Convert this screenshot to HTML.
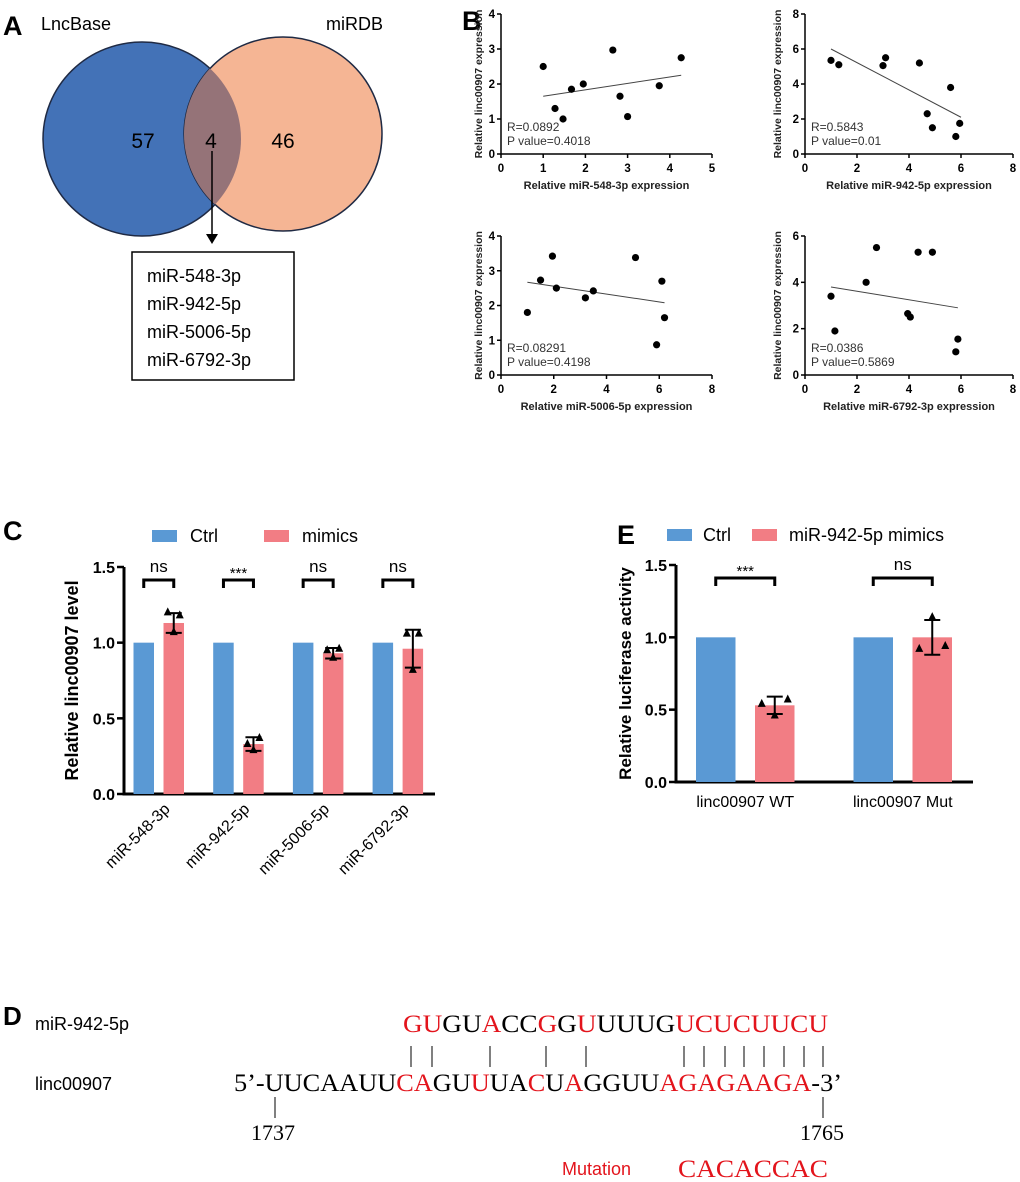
<!DOCTYPE html>
<html><head><meta charset="utf-8"><style>
body{margin:0;background:#fff}
svg{display:block;font-family:"Liberation Sans",Arial,sans-serif}
</style></head><body>
<svg id="fig" width="1020" height="1182" viewBox="0 0 1020 1182" xmlns="http://www.w3.org/2000/svg">
<!-- Panel A -->
<g>
<text x="3" y="35" font-size="27" font-weight="bold">A</text>
<text x="41" y="30" font-size="18">LncBase</text>
<text x="326" y="30" font-size="18">miRDB</text>
<ellipse cx="142" cy="139" rx="99" ry="97" fill="#4372b7" stroke="#1f2a44" stroke-width="1.5"/>
<ellipse cx="283" cy="134" rx="99" ry="97" fill="#f5b594" stroke="#1f2a44" stroke-width="1.5"/>
<clipPath id="cl"><ellipse cx="142" cy="139" rx="99" ry="97"/></clipPath>
<ellipse cx="283" cy="134" rx="99" ry="97" fill="#957378" clip-path="url(#cl)"/>
<text x="143" y="148" font-size="21" text-anchor="middle">57</text>
<text x="211" y="148" font-size="21" text-anchor="middle">4</text>
<text x="283" y="148" font-size="21" text-anchor="middle">46</text>
<line x1="212" y1="151" x2="212" y2="236" stroke="#000" stroke-width="1.5"/>
<polygon points="206,234 218,234 212,244" fill="#000"/>
<rect x="132" y="252" width="162" height="128" fill="#fff" stroke="#000" stroke-width="1.5"/>
<g font-size="18">
<text x="147" y="282">miR-548-3p</text><text x="147" y="310">miR-942-5p</text>
<text x="147" y="338">miR-5006-5p</text><text x="147" y="366">miR-6792-3p</text></g>
</g>
<text x="462" y="30" font-size="27" font-weight="bold">B</text>
<g id="B"></g>
<!-- Panel C -->
<text x="3" y="540" font-size="27" font-weight="bold">C</text>
<g id="C"></g>
<text x="617" y="544" font-size="27" font-weight="bold">E</text>
<g id="E"></g>
<!-- Panel D -->
<g>
<text x="3" y="1025" font-size="26" font-weight="bold">D</text>
<text x="35" y="1030" font-size="18">miR-942-5p</text>
<text x="35" y="1090" font-size="18">linc00907</text>
<text x="403" y="1032" font-size="25" textLength="425" lengthAdjust="spacingAndGlyphs" font-family="Liberation Serif,serif"><tspan fill="#e3141c">GU</tspan>GU<tspan fill="#e3141c">A</tspan>CC<tspan fill="#e3141c">G</tspan>G<tspan fill="#e3141c">U</tspan>UUUG<tspan fill="#e3141c">UCUCUUCU</tspan></text>
<g id="pairs" stroke="#000" stroke-width="1"></g>
<text x="234" y="1091" font-size="25" textLength="608" lengthAdjust="spacingAndGlyphs" font-family="Liberation Serif,serif">5’-UUCAAUU<tspan fill="#e3141c">CA</tspan>GU<tspan fill="#e3141c">U</tspan>UA<tspan fill="#e3141c">C</tspan>U<tspan fill="#e3141c">A</tspan>GGUU<tspan fill="#e3141c">AGAGAAGA</tspan>-3’</text>
<line x1="275" y1="1097" x2="275" y2="1118" stroke="#000"/>
<line x1="823" y1="1097" x2="823" y2="1118" stroke="#000"/>
<text x="273" y="1140" font-size="22" text-anchor="middle" font-family="Liberation Serif,serif">1737</text>
<text x="822" y="1140" font-size="22" text-anchor="middle" font-family="Liberation Serif,serif">1765</text>
<text x="562" y="1175" font-size="18" fill="#e3141c">Mutation</text>
<text x="678" y="1177" font-size="25" fill="#e3141c" textLength="150" lengthAdjust="spacingAndGlyphs" font-family="Liberation Serif,serif">CACACCAC</text>
</g>
</svg>
<script>
// ---- Panel B data ----
const b1X=[1,1.28,1.47,1.67,1.95,2.65,2.82,3.0,3.75,4.27];
const b1Y=[2.5,1.3,1.0,1.85,2.0,2.97,1.65,1.07,1.95,2.75];
const b2X=[1,1.3,3,3.1,4.4,4.7,4.9,5.6,5.8,5.95];
const b2Y=[5.35,5.1,5.05,5.5,5.2,2.3,1.5,3.8,1.0,1.75];
const b3X=[1,1.5,1.95,2.1,3.2,3.5,5.1,5.9,6.1,6.2];
const b3Y=[1.8,2.73,3.42,2.5,2.22,2.42,3.38,0.87,2.7,1.65];
const b4X=[1,1.15,2.35,2.75,3.95,4.05,4.35,4.9,5.8,5.88];
const b4Y=[3.4,1.9,4.0,5.5,2.65,2.5,5.3,5.3,1.0,1.55];
const fitX=[[1,4.27],[1,6],[1,6.2],[1,5.88]];
const fitY=[[1.65,2.25],[6.0,2.1],[2.67,2.08],[3.8,2.9]];
const bXLabels=["Relative miR-548-3p expression","Relative miR-942-5p expression","Relative miR-5006-5p expression","Relative miR-6792-3p expression"];
const bStats=[["R=0.0892","P value=0.4018"],["R=0.5843","P value=0.01"],["R=0.08291","P value=0.4198"],["R=0.0386","P value=0.5869"]];
const bXTicks=[[0,1,2,3,4,5],[0,2,4,6,8],[0,2,4,6,8],[0,2,4,6,8]];
const bYTicks=[[0,1,2,3,4],[0,2,4,6,8],[0,1,2,3,4],[0,2,4,6]];
// ---- Panel C data ----
const cCats=["miR-548-3p","miR-942-5p","miR-5006-5p","miR-6792-3p"];
const cCtrl=[1,1,1,1];
const cMim=[1.13,0.33,0.93,0.96];
const cSd=[0.065,0.045,0.035,0.125];
const cReps=[[1.2,1.07,1.18],[0.33,0.29,0.37],[0.95,0.9,0.96],[1.06,0.82,1.06]];
const cSig=["ns","***","ns","ns"];
const cTicks=["0.0","0.5","1.0","1.5"];
// ---- Panel E data ----
const eCats=["linc00907 WT","linc00907 Mut"];
const eCtrl=[1,1];
const eMim=[0.53,1.0];
const eSd=[0.06,0.12];
const eReps=[[0.54,0.46,0.57],[0.92,1.14,0.94]];
const eSig=["***","ns"];
const eTicks=["0.0","0.5","1.0","1.5"];

const NS="http://www.w3.org/2000/svg";
function mk(parent,tag,attrs,txt){const e=document.createElementNS(NS,tag);for(const k in attrs)e.setAttribute(k,attrs[k]);if(txt!==undefined)e.textContent=txt;parent.appendChild(e);return e;}

// Panel B
const bFrames=[{x0:501,x1:712,y0:154,y1:14},{x0:805,x1:1013,y0:154,y1:14},{x0:501,x1:712,y0:375,y1:236},{x0:805,x1:1013,y0:375,y1:236}];
const bXs=[b1X,b2X,b3X,b4X], bYs=[b1Y,b2Y,b3Y,b4Y];
const B=document.getElementById('B');
bFrames.forEach((f,i)=>{
  const xt=bXTicks[i], yt=bYTicks[i];
  const sx=v=>f.x0+(v-xt[0])/(xt[xt.length-1]-xt[0])*(f.x1-f.x0);
  const sy=v=>f.y0-(v-yt[0])/(yt[yt.length-1]-yt[0])*(f.y0-f.y1);
  const g=mk(B,'g',{});
  
  
  const ax=mk(g,'path',{d:`M${f.x0} ${f.y1}V${f.y0}H${f.x1}`,fill:'none',stroke:'#000','stroke-width':1.5});
  
  
  xt.forEach(v=>{mk(g,'line',{x1:sx(v),x2:sx(v),y1:f.y0,y2:f.y0+4,stroke:'#000','stroke-width':1.5});
    const t=mk(g,'text',{x:sx(v),y:f.y0+18,'font-size':11.5,'font-weight':'bold','text-anchor':'middle'},v);
    
    });
  yt.forEach(v=>{mk(g,'line',{x1:f.x0-4,x2:f.x0,y1:sy(v),y2:sy(v),stroke:'#000','stroke-width':1.5});
    const t=mk(g,'text',{x:f.x0-6,y:sy(v)+4,'font-size':11.5,'font-weight':'bold','text-anchor':'end'},v);
    
    });
  const xtl=mk(g,'text',{x:(f.x0+f.x1)/2,y:f.y0+35,'font-size':11,'font-weight':'bold','text-anchor':'middle',fill:'#222'},bXLabels[i]);
  
  
  const cy=(f.y0+f.y1)/2, cx=f.x0-(i%2?24:19);
  const ytl=mk(g,'text',{x:cx,y:cy,'font-size':10.5,'font-weight':'bold','text-anchor':'middle',fill:'#222',transform:`rotate(-90 ${cx} ${cy})`},'Relative linc00907 expression');
  
  
  bStats[i].forEach((s,j)=>{const t=mk(g,'text',{x:f.x0+6,y:f.y0-23+j*14,'font-size':12,fill:'#333'},s);
    
    });
  const fl=mk(g,'line',{x1:sx(fitX[i][0]),y1:sy(fitY[i][0]),x2:sx(fitX[i][1]),y2:sy(fitY[i][1]),stroke:'#444','stroke-width':1});
  
  
  bXs[i].forEach((x,k)=>{const c=mk(g,'circle',{cx:sx(x),cy:sy(bYs[i][k]),r:3.6,fill:'#000'});
    
    });
});

// Bar chart helper
function barChart(root,o){
  const sy=v=>o.y0-v/1.5*(o.y0-o.y15);
  const ax=mk(root,'path',{d:`M${o.ax} ${o.y15}V${o.y0}H${o.xEnd}`,fill:'none',stroke:'#000','stroke-width':3});
  
  
  o.ticks.forEach(t=>{const v=parseFloat(t);mk(root,'line',{x1:o.ax-7,x2:o.ax,y1:sy(v),y2:sy(v),stroke:'#000','stroke-width':2.5});
    const e=mk(root,'text',{x:o.ax-9,y:sy(v)+6,'font-size':16,'font-weight':'bold','text-anchor':'end'},t);
    
    });
  const cy=(o.y0+o.y15)/2;
  const yt=mk(root,'text',{x:o.titleX,y:cy,'font-size':o.titleSize,'font-weight':'bold','text-anchor':'middle',transform:`rotate(-90 ${o.titleX} ${cy})`},o.title);
  
  
  o.cats.forEach((c,i)=>{
    const xc=o.first+i*o.step, xm=xc+o.off;
    const r1=mk(root,'rect',{x:xc,y:sy(o.ctrl[i]),width:o.bw,height:o.y0-sy(o.ctrl[i]),fill:'#5a99d4'});
    
    
    const r2=mk(root,'rect',{x:xm,y:sy(o.mim[i]),width:o.bw,height:o.y0-sy(o.mim[i]),fill:'#f27d84'});
    
    
    const mc=xm+o.bw/2, top=sy(o.mim[i]+o.sd[i]), bot=sy(o.mim[i]-o.sd[i]);
    const eb=mk(root,'path',{d:`M${mc} ${top}V${bot}M${mc-8} ${top}H${mc+8}M${mc-8} ${bot}H${mc+8}`,stroke:'#000','stroke-width':2,fill:'none'});
    
    
    o.reps[i].forEach((v,k)=>{const px=mc+(k-1)*o.spread, py=sy(v);
      const tr=mk(root,'polygon',{points:`${px-4},${py+3} ${px+4},${py+3} ${px},${py-5}`,fill:'#000'});
      
      });
    const c1=xc+o.bw/2;
    const br=mk(root,'path',{d:`M${c1} ${o.brY+8}V${o.brY}H${mc}V${o.brY+8}`,stroke:'#000','stroke-width':3,fill:'none'});
    
    
    const st=mk(root,'text',{x:(c1+mc)/2,y:o.sig[i]==='ns'?o.brY-8:o.brY-2,'font-size':o.sig[i]==='ns'?17:15,'text-anchor':'middle'},o.sig[i]);
    
    
    let lab;
    if(o.rot){const lx=(c1+mc)/2+12, ly=o.y0+16;
      lab=mk(root,'text',{x:lx,y:ly,'font-size':16,'text-anchor':'end',transform:`rotate(-45 ${lx} ${ly})`},c);}
    else lab=mk(root,'text',{x:(c1+mc)/2,y:o.y0+25,'font-size':16,'text-anchor':'middle'},c);
    
    
  });
  const lg=mk(root,'g',{});
  
  
  mk(lg,'rect',{x:o.leg[0],y:o.legY,width:25,height:12,fill:'#5a99d4'});
  mk(lg,'text',{x:o.leg[1],y:o.legY+12,'font-size':18},'Ctrl');
  mk(lg,'rect',{x:o.leg[2],y:o.legY,width:25,height:12,fill:'#f27d84'});
  mk(lg,'text',{x:o.leg[3],y:o.legY+12,'font-size':18},o.mimName);
}
barChart(document.getElementById('C'),{ax:124,y15:567,y0:794,xEnd:435,ticks:cTicks,title:'Relative linc00907 level',titleX:78,titleSize:18,
  cats:cCats,ctrl:cCtrl,mim:cMim,sd:cSd,reps:cReps,sig:cSig,first:133.5,step:79.7,off:30,bw:20.5,spread:6,brY:580,rot:true,
  leg:[152,190,264,302],legY:530,mimName:'mimics'});
barChart(document.getElementById('E'),{ax:676,y15:565,y0:782,xEnd:973,ticks:eTicks,title:'Relative luciferase activity',titleX:631,titleSize:17,
  cats:eCats,ctrl:eCtrl,mim:eMim,sd:eSd,reps:eReps,sig:eSig,first:696,step:157.5,off:59,bw:39.5,spread:13,brY:578,rot:false,
  leg:[667,703,752,789],legY:529,mimName:'miR-942-5p mimics'});

// Panel D pair lines
const pairX=[411,432,490,546,586,684,704,725,744,764,784,804,823];
const P=document.getElementById('pairs');
pairX.forEach(x=>{const l=mk(P,'line',{x1:x,x2:x,y1:1046,y2:1067});
  
  });
</script>
</body></html>
